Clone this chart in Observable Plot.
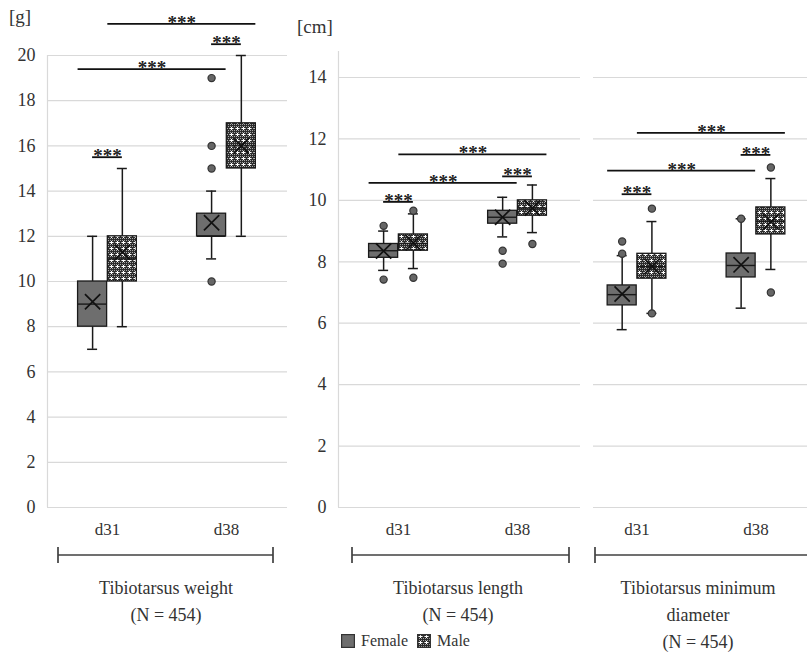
<!DOCTYPE html>
<html><head><meta charset="utf-8">
<script src="https://cdn.jsdelivr.net/npm/d3@7"></script>
<script src="https://cdn.jsdelivr.net/npm/@observablehq/plot@0.6"></script>
<style>
body{margin:0;background:#fff;}
#wrap{position:relative;width:807px;height:659px;overflow:hidden;font-family:"Liberation Serif","Times New Roman",serif;color:#333;background:#fff;}
.panel{position:absolute;top:0;}
.t{position:absolute;white-space:nowrap;transform:translate(-50%,-50%);font-size:18px;}
.unit{position:absolute;white-space:nowrap;font-size:19px;transform:translateY(-50%);}
#wrap g[aria-label^="y-axis"] text{font-size:18px;}
#wrap g[aria-label^="x-axis"] text{font-size:17px;}
</style></head><body>
<svg width="0" height="0" style="position:absolute">
  <defs>
    <pattern id="maleFill" width="6" height="6" patternUnits="userSpaceOnUse">
      <rect width="6" height="6" fill="#2c2c2c"/>
      <rect x="0" y="0" width="1" height="1" fill="#a8a8a8"/>
      <rect x="2" y="0" width="1" height="1" fill="#a8a8a8"/>
      <rect x="4" y="0" width="1" height="1" fill="#a8a8a8"/>
      <rect x="1" y="2" width="1" height="1" fill="#a8a8a8"/>
      <rect x="5" y="2" width="1" height="1" fill="#a8a8a8"/>
      <rect x="0" y="4" width="1" height="1" fill="#a8a8a8"/>
      <rect x="2" y="4" width="1" height="1" fill="#a8a8a8"/>
      <rect x="4" y="4" width="1" height="1" fill="#a8a8a8"/>
      <rect x="3" y="1" width="1" height="3" fill="#ffffff"/>
      <rect x="2" y="2" width="3" height="1" fill="#ffffff"/>
    </pattern>
  </defs>
</svg>
<div id="wrap"></div>
<script>
// ---------- categories ----------
const days = ["d31", "d38"];
const sexes = ["Female", "Male"];
// order of group values: d31 Female, d31 Male, d38 Female, d38 Male

// ---------- Tibiotarsus weight [g] ----------
const weightLow  = [7, 8, 11, 12];
const weightQ1   = [8, 10, 12, 15];
const weightMed  = [9, 11, 12, 16];
const weightQ3   = [10, 12, 13, 17];
const weightHigh = [12, 15, 14, 20];
const weightMean = [9.1, 11.3, 12.6, 16.0];
const weightOutliers = [["d38","Female",10], ["d38","Female",15], ["d38","Female",16], ["d38","Female",19]];
const weightSig = [["d31 Female","d31 Male",15.5], ["d31 Female","d38 Female",19.4], ["d31 Male","d38 Male",21.4], ["d38 Female","d38 Male",20.5]];
const weightTicks = [0,2,4,6,8,10,12,14,16,18,20];

// ---------- Tibiotarsus length [cm] ----------
const lengthLow  = [7.72, 7.78, 8.81, 8.95];
const lengthQ1   = [8.13, 8.36, 9.24, 9.50];
const lengthMed  = [8.36, 8.60, 9.45, 9.75];
const lengthQ3   = [8.58, 8.89, 9.66, 10.0];
const lengthHigh = [9.0, 9.56, 10.1, 10.5];
const lengthMean = [8.35, 8.62, 9.45, 9.75];
const lengthOutliers = [["d31","Female",9.17], ["d31","Female",7.42], ["d31","Male",9.66], ["d31","Male",7.48], ["d38","Female",8.36], ["d38","Female",7.94], ["d38","Male",8.58]];
const lengthSig = [["d31 Female","d31 Male",9.95], ["d31 Female","d38 Female",10.57], ["d31 Male","d38 Male",11.5], ["d38 Female","d38 Male",10.78]];

// ---------- Tibiotarsus minimum diameter [cm] ----------
const diamLow  = [5.79, 6.32, 6.49, 7.75];
const diamQ1   = [6.58, 7.45, 7.49, 8.89];
const diamMed  = [6.93, 7.84, 7.88, 9.32];
const diamQ3   = [7.23, 8.26, 8.27, 9.77];
const diamHigh = [8.2, 9.31, 9.4, 10.71];
const diamMean = [6.95, 7.85, 7.9, 9.3];
const diamOutliers = [["d31","Female",8.26], ["d31","Female",8.66], ["d31","Male",9.73], ["d31","Male",6.32], ["d38","Female",9.4], ["d38","Male",11.07], ["d38","Male",7.0]];
const diamSig = [["d31 Female","d31 Male",10.2], ["d31 Female","d38 Female",10.97], ["d31 Male","d38 Male",12.2], ["d38 Female","d38 Male",11.48]];
const cmTicks = [0,2,4,6,8,10,12,14];

// ---------- text ----------
const titles = [["Tibiotarsus weight","(N = 454)"], ["Tibiotarsus length","(N = 454)"], ["Tibiotarsus minimum","diameter","(N = 454)"]];
const units = ["[g]", "[cm]"];

// ---------- helpers ----------
const OFF = 0.125, HW = 0.122, CAP = 0.042;
const posOf = (day, sex) => days.indexOf(day) + (sexes.indexOf(sex) ? OFF : -OFF);
function groupsOf(low, q1, med, q3, high, mean) {
  return days.flatMap((day, i) => sexes.map((sex, j) => {
    const k = i * 2 + j;
    return {day, sex, key: day + " " + sex, pos: posOf(day, sex), low: low[k], q1: q1[k], med: med[k], q3: q3[k], high: high[k], mean: mean[k]};
  }));
}
function sigOf(list) {
  return list.map(([a, b, y]) => {
    const [da, sa] = a.split(" "), [db, sb] = b.split(" ");
    const pa = posOf(da, sa), pb = posOf(db, sb);
    const same = da === db;
    const x1 = same ? pa : pa - HW, x2 = same ? pb : pb + HW;
    return {x1, x2, xm: (x1 + x2) / 2, y};
  });
}

function panel({groups, outliers, sig, yDomain, ticks, width, marginLeft, marginRight, marginTop, xDomain, yAxis, axisLineTop}) {
  const fem = groups.filter(d => d.sex === "Female");
  const mal = groups.filter(d => d.sex === "Male");
  const out = outliers.map(([day, sex, v]) => ({pos: posOf(day, sex), v}));
  const marks = [
    Plot.ruleY(ticks, {stroke: "#d9d9d9", strokeWidth: 1.2}),
  ];
  if (yAxis) marks.push(Plot.ruleX([xDomain[0]], {y1: 0, y2: axisLineTop, stroke: "#d9d9d9", strokeWidth: 1.2}));
  marks.push(
    Plot.ruleX(groups, {x: "pos", y1: "low", y2: "q1", stroke: "#1a1a1a", strokeWidth: 1.5}),
    Plot.ruleX(groups, {x: "pos", y1: "q3", y2: "high", stroke: "#1a1a1a", strokeWidth: 1.5}),
    Plot.ruleY(groups, {y: "low", x1: d => d.pos - CAP, x2: d => d.pos + CAP, stroke: "#1a1a1a", strokeWidth: 1.5}),
    Plot.ruleY(groups, {y: "high", x1: d => d.pos - CAP, x2: d => d.pos + CAP, stroke: "#1a1a1a", strokeWidth: 1.5}),
    Plot.rect(fem, {x1: d => d.pos - HW, x2: d => d.pos + HW, y1: "q1", y2: "q3", fill: "#6e6e6e", stroke: "#1a1a1a", strokeWidth: 1.3}),
    Plot.rect(mal, {x1: d => d.pos - HW, x2: d => d.pos + HW, y1: "q1", y2: "q3", fill: "url(#maleFill)", stroke: "#1a1a1a", strokeWidth: 1.3}),
    Plot.ruleY(groups, {y: "med", x1: d => d.pos - HW, x2: d => d.pos + HW, stroke: "#1a1a1a", strokeWidth: 1.4}),
    Plot.dot(groups, {x: "pos", y: "mean", symbol: "times", r: 7, stroke: "#111", strokeWidth: 1.7}),
    Plot.dot(out, {x: "pos", y: "v", r: 3.6, fill: "#666", stroke: "#333", strokeWidth: 1.2}),
    Plot.ruleY(sig, {y: "y", x1: "x1", x2: "x2", stroke: "#111", strokeWidth: 1.8}),
    Plot.text(sig, {x: "xm", y: "y", text: () => "***", lineAnchor: "bottom", dy: 5, fontSize: 19, fontWeight: "bold", fill: "#222"})
  );
  return Plot.plot({
    width, height: 545, marginLeft, marginRight, marginTop, marginBottom: 38,
    style: {fontFamily: "'Liberation Serif', 'Times New Roman', serif", fontSize: "17px", color: "#333", background: "transparent", overflow: "visible"},
    x: {type: "linear", domain: xDomain, ticks: [0, 1], tickFormat: i => days[i], tickSize: 0, tickPadding: 15, label: null},
    y: yAxis ? {domain: yDomain, ticks, tickSize: 0, tickPadding: 12, label: null, tickFormat: d => String(d)} : {domain: yDomain, axis: null},
    marks
  });
}

const wrap = document.getElementById("wrap");
function place(node, left) {
  node.classList.add("panel");
  node.style.left = left + "px";
  wrap.appendChild(node);
  return node;
}

place(panel({
  groups: groupsOf(weightLow, weightQ1, weightMed, weightQ3, weightHigh, weightMean),
  outliers: weightOutliers, sig: sigOf(weightSig), yDomain: [0, 20], ticks: weightTicks,
  width: 290, marginLeft: 47, marginRight: 3, marginTop: 55, xDomain: [-0.504, 1.513], yAxis: true, axisLineTop: 20
}), 0);
place(panel({
  groups: groupsOf(lengthLow, lengthQ1, lengthMed, lengthQ3, lengthHigh, lengthMean),
  outliers: lengthOutliers, sig: sigOf(lengthSig), yDomain: [0, 14], ticks: cmTicks,
  width: 292, marginLeft: 48, marginRight: 2, marginTop: 77, xDomain: [-0.504, 1.529], yAxis: true, axisLineTop: 14.85
}), 290);
place(panel({
  groups: groupsOf(diamLow, diamQ1, diamMed, diamQ3, diamHigh, diamMean),
  outliers: diamOutliers, sig: sigOf(diamSig), yDomain: [0, 14], ticks: cmTicks,
  width: 225, marginLeft: 11, marginRight: 0, marginTop: 77, xDomain: [-0.366, 1.433], yAxis: false
}), 582);

// unit labels
[[units[0], 9, 17], [units[1], 297, 27]].forEach(([txt, x, y]) => {
  const d = document.createElement("div");
  d.className = "unit"; d.textContent = txt;
  d.style.left = x + "px"; d.style.top = y + "px";
  wrap.appendChild(d);
});

// brackets under each panel
const ns = "http://www.w3.org/2000/svg";
const br = document.createElementNS(ns, "svg");
br.setAttribute("width", 807); br.setAttribute("height", 659);
br.style.position = "absolute"; br.style.left = "0"; br.style.top = "0"; br.style.pointerEvents = "none";
[[58, 273], [352, 569], [595, 830]].forEach(([a, b]) => {
  const y = 555;
  [[a, y, b, y], [a, y - 8, a, y + 8], [b, y - 8, b, y + 8]].forEach(([x1, y1, x2, y2]) => {
    const l = document.createElementNS(ns, "line");
    l.setAttribute("x1", x1); l.setAttribute("y1", y1); l.setAttribute("x2", x2); l.setAttribute("y2", y2);
    l.setAttribute("stroke", "#404040"); l.setAttribute("stroke-width", "1.7");
    br.appendChild(l);
  });
});
wrap.appendChild(br);

// titles
const centers = [166, 458, 698];
titles.forEach((lines, i) => {
  lines.forEach((txt, j) => {
    const d = document.createElement("div");
    d.className = "t"; d.textContent = txt;
    d.style.left = centers[i] + "px"; d.style.top = (588 + j * 27) + "px";
    wrap.appendChild(d);
  });
});

// legend
const leg = document.createElement("div");
leg.style.cssText = "position:absolute;left:341px;top:632px;display:flex;align-items:center;font-size:16px;white-space:nowrap;";
leg.innerHTML =
  `<svg width="14" height="14" style="margin-right:6px"><rect x="0.6" y="0.6" width="12.8" height="12.8" fill="#6e6e6e" stroke="#333" stroke-width="1.2"/></svg><span style="margin-right:9px">${sexes[0]}</span>` +
  `<svg width="14" height="14" style="margin-right:6px"><rect x="0.6" y="0.6" width="12.8" height="12.8" fill="url(#maleFill)" stroke="#333" stroke-width="1.2"/></svg><span>${sexes[1]}</span>`;
wrap.appendChild(leg);
</script>
</body></html>
